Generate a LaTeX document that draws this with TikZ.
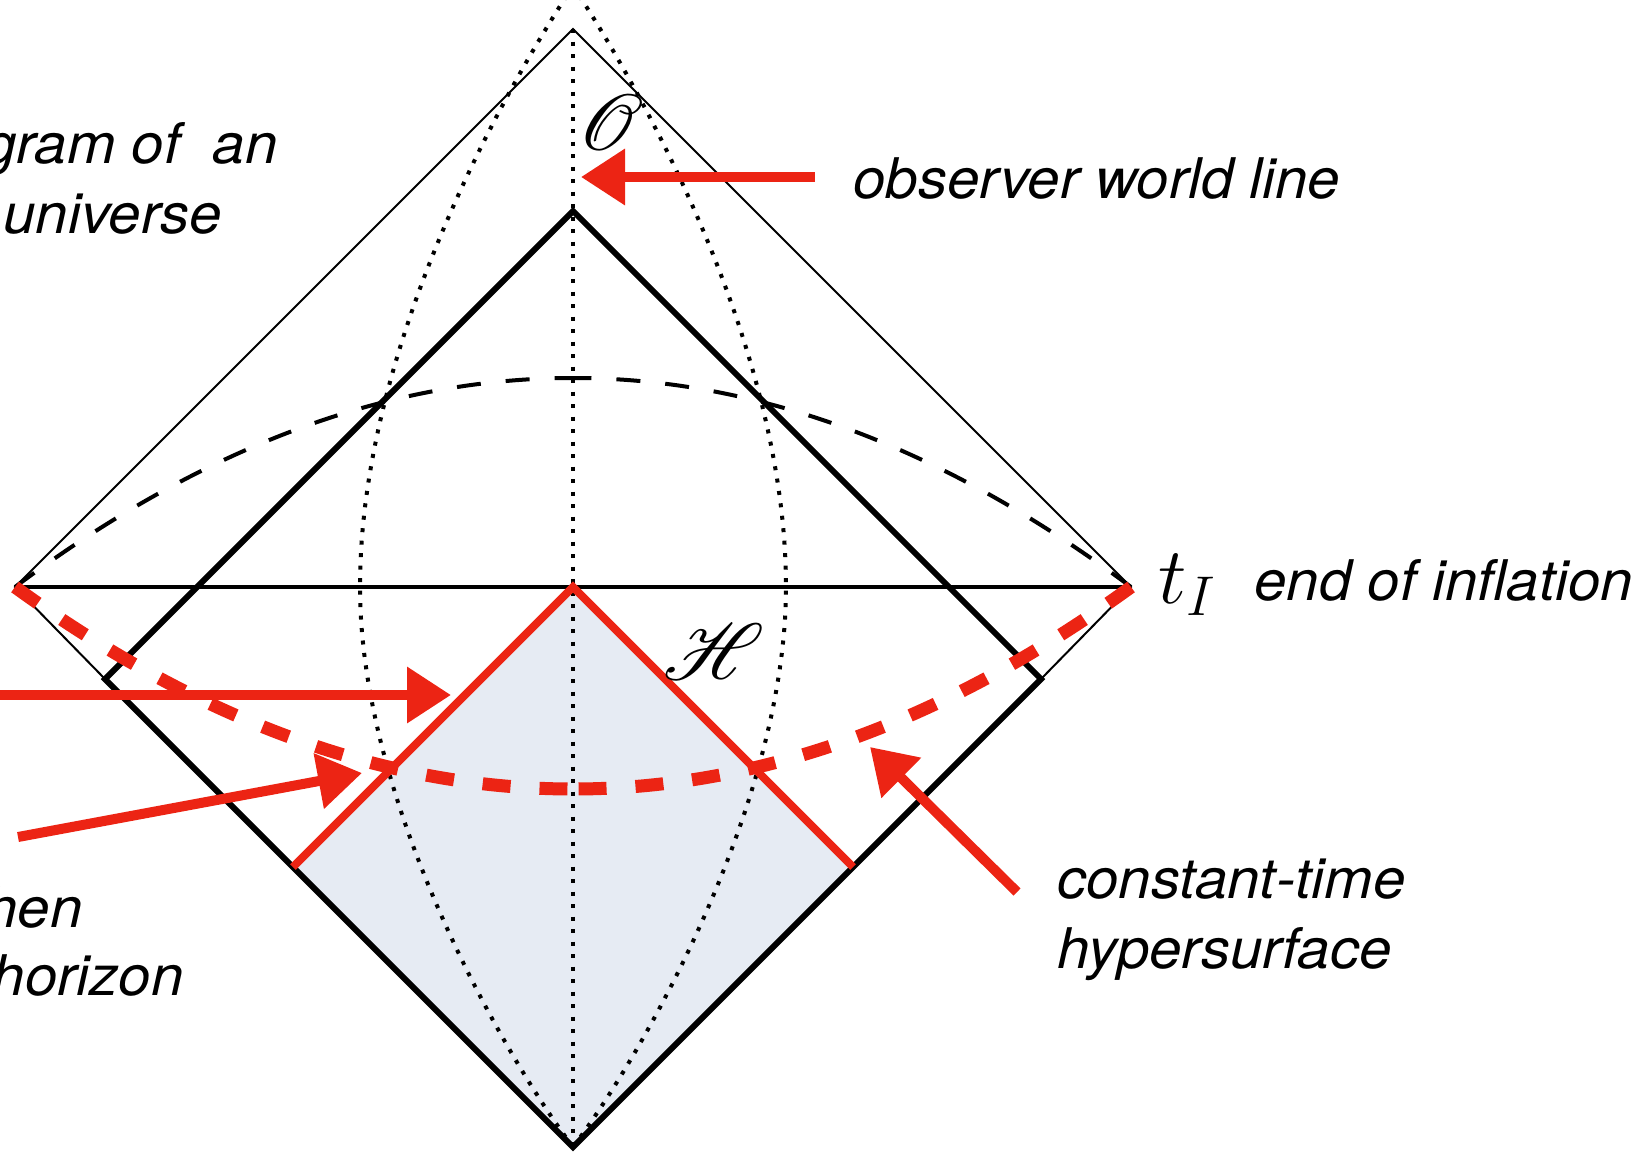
\documentclass[tikz,border=0pt]{standalone}
\usepackage{fix-cm}
\usepackage{fontspec}
\usepackage{mathrsfs}
\usetikzlibrary{arrows.meta}
\newfontfamily\lblfont[FakeStretch=1.04]{TeX Gyre Heros}
\definecolor{penred}{RGB}{236,36,20}
\definecolor{hzfill}{RGB}{230,235,243}
\newcommand{\bigscr}[1]{\scalebox{1.6}{\fontsize{24.88}{28}\selectfont$\mathscr{#1}$}}

\begin{document}
\begin{tikzpicture}[x=0.5pt,y=-0.5pt,
    lbl/.style={font=\lblfont\itshape\fontsize{28}{33}\selectfont, inner sep=0pt},
    dotline/.style={line width=2pt, dash pattern=on 2pt off 4.25pt},
    blackdash/.style={line width=2pt, dash pattern=on 12pt off 12.5pt},
    reddash/.style={penred, line width=6.5pt, dash pattern=on 14pt off 14.5pt},
    redarrow/.style={penred, line width=5pt, -{Triangle[length=22pt,width=27pt]}}]
  \useasboundingbox (0,0) rectangle (1652,1151);
  % corners of the diagrams
  \coordinate (top) at (573,29);
  \coordinate (L) at (15,587);
  \coordinate (R) at (1131,587);
  \coordinate (C) at (573,587);
  \coordinate (itop) at (573,211);
  \coordinate (il) at (105,679);
  \coordinate (ir) at (1041,679);
  \coordinate (bot) at (573,1147);
  \coordinate (hl) at (293,867);
  \coordinate (hr) at (853,867);
  \coordinate (bmid) at (573,378);
  \coordinate (rmid) at (573,789);
  % shaded region below the horizon
  \fill[hzfill] (C) -- (hl) -- (bot) -- (hr) -- cycle;
  % world lines
  \draw[dotline] (top) -- (bot);
  \draw[dotline] (bot) .. controls (500,1050) and (360,800) .. (360,587)
                       .. controls (360,350) and (501,95) .. (573,-14);
  \draw[dotline] (bot) .. controls (646,1050) and (786,800) .. (786,587)
                       .. controls (786,350) and (645,95) .. (573,-14);
  % outer and inner diamonds
  \draw[line width=1pt] (il) -- (L) -- (top) -- (R) -- (ir);
  \draw[line width=3pt, line join=miter] (itop) -- (il) -- (bot) -- (ir) -- cycle;
  \draw[line width=2pt] (L) -- (R);
  \draw[blackdash] (L) .. controls (201,448) and (387,378) .. (bmid);
  \draw[blackdash] (R) .. controls (945,448) and (759,378) .. (bmid);
  % horizon
  \draw[penred, line width=4pt] (hl) -- (C) -- (hr);
  \draw[reddash] (L) .. controls (201,722) and (387,789) .. (rmid);
  \draw[reddash] (R) .. controls (945,722) and (759,789) .. (rmid);
  % labels
  \node[inner sep=0pt] at (611,123) (O) {\bigscr{O}};
  \node[inner sep=0pt] at (714,652) (H) {\bigscr{H}};
  \node[anchor=base west, inner sep=0pt] at (1158,603) (tI) {\fontsize{40}{46}\selectfont$t_I$};
  \node[lbl, anchor=base east] at (278,163) (gram) {gram of\ \ an};
  \node[lbl, anchor=base east] at (222,233) (univ) {universe};
  \node[lbl, anchor=base east] at (83,927) (hen) {hen};
  \node[lbl, anchor=base east] at (184,995) (horiz) {horizon};
  \node[lbl, anchor=base west] at (853,198) (obs) {observer world line};
  \node[lbl, anchor=base west] at (1254,600) (endinf) {end of inflation};
  \node[lbl, anchor=base west] at (1057,898) (const) {constant-time};
  \node[lbl, anchor=base west] at (1057,968) (hyper) {hypersurface};
  % red arrows
  \coordinate (obs0) at (815,177);
  \coordinate (obs1) at (581,177);
  \coordinate (a0) at (-5,695);
  \coordinate (a1) at (451,695);
  \coordinate (b0) at (18,837);
  \coordinate (b1) at (362,773);
  \coordinate (c0) at (1017,892);
  \coordinate (c1) at (870,747);
  \draw[redarrow] (obs0) -- (obs1);
  \draw[redarrow] (a0) -- (a1);
  \draw[redarrow] (b0) -- (b1);
  \draw[redarrow] (c0) -- (c1);
\end{tikzpicture}
\end{document}
